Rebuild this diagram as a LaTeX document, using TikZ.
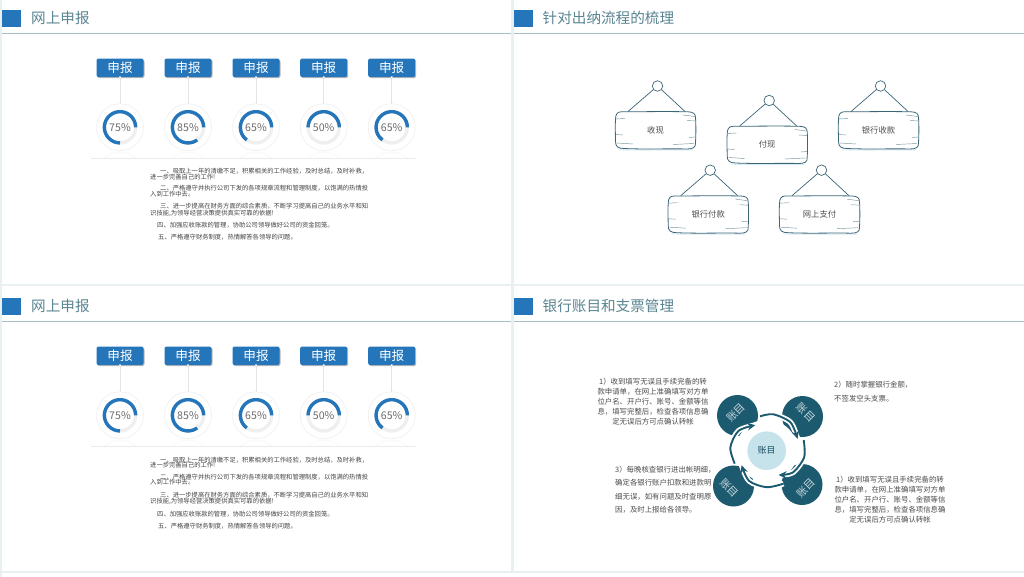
\documentclass[tikz,border=0pt]{standalone}
\usepackage{fontspec}
\usetikzlibrary{arrows.meta,shadows,calc}
\setmainfont{Noto Sans CJK SC}
\definecolor{gapc}{HTML}{E9F0F2}
\definecolor{blueb}{HTML}{2575BA}
\definecolor{titlec}{HTML}{5A8592}
\definecolor{rulec}{HTML}{A6BFC8}
\definecolor{teald}{HTML}{1C5A70}
\definecolor{sketchc}{HTML}{3B6678}
\definecolor{palec}{HTML}{C6E3EC}
\definecolor{bodyc}{HTML}{444444}
\definecolor{trackc}{HTML}{EFEFEF}
\newcommand{\fs}[1]{\fontsize{#1}{#1}\selectfont}
\tikzset{
  x=1pt,y=-1pt,
  titletext/.style={anchor=west,inner sep=0,text=titlec,font=\fs{14.6}},
  btn/.style={draw=none,fill=blueb,rounded corners=2pt,minimum width=47pt,minimum height=18.5pt,inner sep=0,text=white,font=\fs{12.6},
     drop shadow={shadow xshift=1pt,shadow yshift=-1pt,fill=gray,opacity=.55}},
  gaugeo/.style={circle,draw=black!7,line width=.5pt,minimum size=47pt,inner sep=0,text=black!58,font=\fs{10.6}},
  bodyl/.style={anchor=base west,inner sep=0,text=bodyc,font=\fs{6.3}},
  para/.style={inner sep=0,text=black!70,font=\fontsize{7.4}{10}\selectfont,align=center},
  paral/.style={inner sep=0,text=black!70,font=\fs{7.4},anchor=base west},
  ringn/.style={circle,draw=sketchc,line width=.7pt,fill=white,minimum size=10.5pt,inner sep=0},
  boardn/.style={minimum width=81pt,minimum height=37.5pt,inner sep=0,text=black!70,font=\fs{8.3}},
  sk/.style={draw=sketchc,line width=.7pt},
  skt/.style={draw=sketchc!70,line width=.45pt},
  darkc/.style={circle,fill=teald,minimum size=41pt,inner sep=0},
  cyc/.style={draw=teald,line width=1.9pt,-{Stealth[length=8pt,width=7.5pt]}},
  halo/.style={draw=white,line width=5.5pt},
  darklab/.style={text=white!75!teald,font=\fs{10.5},inner sep=0},
}
\newcommand{\headerbar}[4]{%
  \fill[blueb] (#2,#3+10) rectangle (#2+19,#3+27);
  \node[titletext] (#1) at (#2+29,#3+18) {#4};
  \draw[rulec,line width=.8pt] (#2,#3+33) -- (#2+509,#3+33);
}
\newcommand{\gaugeitem}[5]{%
  \node[gaugeo] (g#1#2) at (#3,#4+127.3) {#5\%};
  \node[btn] (b#1#2) at (#3,#4+67.8) {申报};
  \draw[black!10,line width=.7pt] (b#1#2.south) -- (g#1#2.north);
  \fill[white,draw=black!25,line width=.2pt] (b#1#2.south) circle (1.2);
  \draw[trackc,line width=3.4pt] (#3,#4+127.3) circle (15.6);
  \draw[blueb,line width=3.4pt] plot[domain=0:3.6*#5,samples=70,smooth] ({#3+15.6*cos(\x)},{#4+127.3-15.6*sin(\x)});
  \begin{scope}
    \clip (#3-26,#4+151) rectangle (#3+26,#4+158);
    \draw[black!4,line width=.5pt] (#3,#4+175.5) circle (23.5);
  \end{scope}
}
\newcommand{\bodyline}[4]{\node[bodyl] (#1) at (#2,#3) {#4};}
\newcommand{\reportpanel}[2]{%
  \gaugeitem{#1}{a}{120}{#2}{75}
  \gaugeitem{#1}{b}{188}{#2}{85}
  \gaugeitem{#1}{c}{256}{#2}{65}
  \gaugeitem{#1}{d}{323.7}{#2}{50}
  \gaugeitem{#1}{e}{391.7}{#2}{65}
  \draw[black!8,line width=.6pt] (91,#2+158) -- (416,#2+158);
  \bodyline{#1p}{160}{#2+174}{一、吸取上一年的清缴不足，积累相关的工作经验，及时总结，及时补救，}
  \bodyline{#1q}{150}{#2+179.5}{进一步完善自己的工作!}
  \bodyline{#1r}{160}{#2+191}{二、严格遵守并执行公司下发的各项规章流程和管理制度，以饱满的热情投}
  \bodyline{#1s}{150}{#2+196.5}{入到工作中去。}
  \bodyline{#1t}{160}{#2+209}{三、进一步提高在财务方面的综合素质，不断学习提高自己的业务水平和知}
  \bodyline{#1u}{150}{#2+215}{识技能,为领导经营决策提供真实可靠的依据!}
  \bodyline{#1v}{157}{#2+228}{四、加强应收账款的管理，协助公司领导做好公司的资金回笼。}
  \bodyline{#1w}{158}{#2+240}{五、严格遵守财务制度，热情解答各领导的问题。}
}
\newcommand{\signboard}[4]{%
  \begin{scope}[shift={(#2,#3)}]
    \draw[palec!70,line width=.9pt] (4,38.2) .. controls (30,39) and (55,38.2) .. (78,38.4);
    \draw[sk,line width=.8pt,fill=white] (6,0.3) .. controls (2,0.5) and (0.5,3) .. (0.5,8) .. controls (0,16) and (0.5,24) .. (0.5,30) .. controls (0.5,35) and (3,37) .. (9,37) .. controls (30,38) and (55,37) .. (72,37.5) .. controls (78,37.5) and (81,36) .. (80.5,31) .. controls (81,22) and (81,14) .. (80.5,6) .. controls (80.5,2) and (78,0.5) .. (73,0.3) .. controls (50,-.2) and (25,0.3) .. (6,0.3) -- cycle;
    \draw[skt] (0.5,7.5) -- (10,7);
    \draw[skt] (0.5,23) -- (8,23.5);
    \draw[skt] (2,31.5) -- (18,32.5);
    \draw[skt] (68,3.5) -- (80,5);
    \draw[skt] (72,9) -- (80.5,9.5);
    \draw[skt] (74,26) -- (80.5,25.5);
    \draw[skt] (58,33) -- (79,32);
    \node[boardn] (#1b) at (40.5,18.7) {#4};
    \coordinate (#1l) at (13,0);
    \coordinate (#1r) at (70,0);
    \node[ringn] (#1o) at (42.5,-25.5) {};
  \end{scope}
  \draw[sk] (#1o) -- (#1l);
  \draw[sk] (#1o) -- (#1r);
}
\newcommand{\arcA}{($(cc)+(158:34.5)$) ($(cc)+(185:36.5)$) ($(cc)+(215:34.5)$) ($(cc)+(246:28)$)}
\newcommand{\arcB}{($(cc)+(259:35)$) ($(cc)+(280:37)$) ($(cc)+(310:37)$) ($(cc)+(339:33)$)}
\newcommand{\arcC}{($(cc)+(344:38.5)$) ($(cc)+(10:38)$) ($(cc)+(40:34)$) ($(cc)+(64:27)$)}
\newcommand{\arcD}{($(cc)+(63:37)$) ($(cc)+(90:36.5)$) ($(cc)+(120:35)$) ($(cc)+(150:29)$)}
\begin{document}
\begin{tikzpicture}
\useasboundingbox (0,0) rectangle (1024,577);
\fill[gapc] (0,0) rectangle (1024,577);
\fill[white] (2,0) rectangle (511,283.5);
\fill[white] (513.5,0) rectangle (1024,283.5);
\fill[white] (2,285.5) rectangle (511,571);
\fill[white] (513.5,285.5) rectangle (1024,571);
\fill[white] (2,573) rectangle (1024,577);

\headerbar{t1}{2}{0}{网上申报}
\headerbar{t2}{513.5}{0}{针对出纳流程的梳理}
\headerbar{t3}{2}{288}{网上申报}
\headerbar{t4}{513.5}{288}{银行账目和支票管理}
\draw[rulec,line width=.8pt] (1022,33) -- (1024,33) (1022,321) -- (1024,321);

\reportpanel{A}{0}
\reportpanel{B}{288}

\signboard{sa}{615}{111.5}{收现}
\signboard{sb}{726.7}{126}{付现}
\signboard{sc}{838}{111.5}{银行收款}
\signboard{sd}{667.7}{195.7}{银行付款}
\signboard{se}{779}{195.7}{网上支付}

% cycle diagram
\node[darkc] (cTL) at (737.5,415.5) {};
\node[darkc] (cTR) at (802.5,416.5) {};
\node[darkc] (cBL) at (733.5,486) {};
\node[darkc] (cBR) at (802,484.5) {};
\coordinate (cc) at (766.7,450.7);
\fill[white] (cc) circle (31);
\draw[halo] plot[smooth] coordinates {\arcA};
\draw[halo] plot[smooth] coordinates {\arcB};
\draw[halo] plot[smooth] coordinates {\arcC};
\draw[halo] plot[smooth] coordinates {\arcD};
\node[darklab,rotate=45] (lTL) at (736,412.5) {账目};
\node[darklab,rotate=-45] (lTR) at (806,412.5) {账目};
\node[darklab,rotate=-45] (lBL) at (729.5,488) {账目};
\node[darklab,rotate=45] (lBR) at (806,488) {账目};
\node[circle,fill=palec,minimum size=38.6pt,inner sep=0,text=teald!85!black,font=\fs{8.8}] (cC) at (cc) {账目};
\draw[cyc] plot[smooth] coordinates {\arcA};
\draw[cyc] plot[smooth] coordinates {\arcB};
\draw[cyc] plot[smooth] coordinates {\arcC};
\draw[cyc] plot[smooth] coordinates {\arcD};

% text blocks
\node[para] (p1) at (653,401.7) {1）收到填写无误且手续完备的转\\款申请单，在网上准确填写对方单\\位户名、开户行、账号、金额等信\\息，填写完整后，检查各项信息确\\定无误后方可点确认转帐};
\node[para] (p4) at (890,500) {1）收到填写无误且手续完备的转\\款申请单，在网上准确填写对方单\\位户名、开户行、账号、金额等信\\息，填写完整后，检查各项信息确\\定无误后方可点确认转帐};
\node[paral] (p3a) at (615,472.5) {3）每晚核查银行进出帐明细，};
\node[paral] (p3b) at (615,485.8) {确定各银行账户扣款和进款明};
\node[paral] (p3c) at (615,499.1) {细无误，如有问题及时查明原};
\node[paral] (p3d) at (615,512) {因，及时上报给各领导。};
\node[paral] (p2a) at (834,387.5) {2）随时掌握银行金额，};
\node[paral] (p2b) at (834,401) {不签发空头支票。};
\end{tikzpicture}
\end{document}
